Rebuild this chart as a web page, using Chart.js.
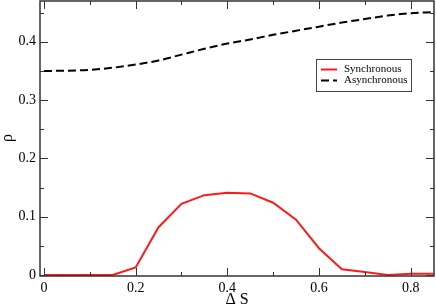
<!DOCTYPE html>
<html>
<head>
<meta charset="utf-8">
<script src="https://cdn.jsdelivr.net/npm/chart.js@4/dist/chart.umd.min.js"></script>
<style>
  html, body { margin: 0; padding: 0; background: #fff; }
  canvas { display: block; }
</style>
</head>
<body>
<canvas id="c" width="436" height="308"></canvas>
<script>
/* data */
const DELTA_S = [0, 0.05, 0.1, 0.15, 0.2, 0.25, 0.3, 0.35, 0.4, 0.45, 0.5, 0.55, 0.6, 0.65, 0.7, 0.75, 0.8, 0.85];
const SYNC    = [0, 0, 0, 0, 0.013, 0.082, 0.122, 0.137, 0.141, 0.140, 0.124, 0.095, 0.046, 0.010, 0.005, 0.000, 0.002, 0.002];
const ASYNC   = [0.350, 0.3505, 0.352, 0.3555, 0.361, 0.368, 0.378, 0.388, 0.397, 0.404, 0.412, 0.419, 0.426, 0.433, 0.439, 0.445, 0.449, 0.451];
const SERIES_NAMES = ['Synchronous', 'Asynchronous'];
const X_MINOR = [0.1, 0.3, 0.5, 0.7];
const Y_MINOR = [0.05, 0.15, 0.25, 0.35, 0.45];

const SERIF = '"Liberation Serif", "DejaVu Serif", serif';

const pts = ys => DELTA_S.map((x, i) => ({ x: x, y: ys[i] }));

/* frame, inward ticks on all four sides, axis titles, boxed legend */
const framePlugin = {
  id: 'frame',
  afterDraw(chart) {
    const ctx = chart.ctx;
    const a = chart.chartArea;
    const xs = chart.scales.x, ys = chart.scales.y;
    ctx.save();
    ctx.strokeStyle = '#333';
    ctx.lineWidth = 1.5;
    ctx.strokeRect(a.left, a.top, a.right - a.left, a.bottom - a.top);

    ctx.lineWidth = 1;
    ctx.beginPath();
    const xt = (v, len) => {
      const p = Math.round(xs.getPixelForValue(v)) + 0.5;
      ctx.moveTo(p, a.bottom); ctx.lineTo(p, a.bottom - len);
      ctx.moveTo(p, a.top);    ctx.lineTo(p, a.top + len);
    };
    const yt = (v, len) => {
      const p = Math.round(ys.getPixelForValue(v)) + 0.5;
      ctx.moveTo(a.left, p);  ctx.lineTo(a.left + len, p);
      ctx.moveTo(a.right, p); ctx.lineTo(a.right - len, p);
    };
    xs.ticks.forEach(t => xt(t.value, 8));
    X_MINOR.forEach(v => xt(v, 4));
    ys.ticks.forEach(t => yt(t.value, 8));
    Y_MINOR.forEach(v => yt(v, 4));
    ctx.stroke();

    // axis titles
    ctx.fillStyle = '#000';
    ctx.font = '16px ' + SERIF;
    ctx.textAlign = 'center';
    ctx.textBaseline = 'middle';
    ctx.fillText('\u0394 S', (a.left + a.right) / 2, 300);
    ctx.save();
    ctx.translate(8, 138);
    ctx.rotate(-Math.PI / 2);
    ctx.fillText('\u03c1', 0, 0);
    ctx.restore();

    // legend
    const lx = 316, ly = 59, lw = 95, lh = 32;
    ctx.fillStyle = '#fff';
    ctx.fillRect(lx, ly, lw, lh);
    ctx.strokeStyle = '#444';
    ctx.lineWidth = 1;
    ctx.strokeRect(lx + 0.5, ly + 0.5, lw, lh);
    ctx.font = '11px ' + SERIF;
    ctx.textAlign = 'left';
    chart.data.datasets.forEach((ds, i) => {
      const y = ly + 10.5 + i * 11;
      ctx.strokeStyle = ds.borderColor;
      ctx.lineWidth = 2;
      ctx.setLineDash(ds.borderDash || []);
      ctx.beginPath();
      ctx.moveTo(lx + 5, y); ctx.lineTo(lx + 21, y);
      ctx.stroke();
      ctx.setLineDash([]);
      ctx.fillStyle = '#000';
      ctx.fillText(ds.label, lx + 28, y);
    });
    ctx.restore();
  }
};

const noPad = s => { s.paddingTop = 0; s.paddingBottom = 0; s.paddingLeft = 0; s.paddingRight = 0; };

new Chart(document.getElementById('c'), {
  type: 'line',
  data: {
    datasets: [
      {
        label: SERIES_NAMES[0],
        data: pts(SYNC),
        borderColor: '#ff1a1a',
        borderWidth: 2,
        pointRadius: 0,
        tension: 0
      },
      {
        label: SERIES_NAMES[1],
        data: pts(ASYNC),
        borderColor: '#000',
        borderWidth: 2,
        borderDash: [8, 4],
        pointRadius: 0,
        cubicInterpolationMode: 'monotone'
      }
    ]
  },
  options: {
    responsive: false,
    devicePixelRatio: 1,
    animation: false,
    layout: { padding: { top: 1, right: 2, left: 0, bottom: 0 } },
    plugins: {
      legend: { display: false },
      tooltip: { enabled: false }
    },
    scales: {
      x: {
        type: 'linear',
        min: -0.0087,
        max: 0.851,
        grid: { display: false, drawTicks: false },
        border: { display: false },
        afterFit(s) { s.height = 32; noPad(s); },
        ticks: {
          stepSize: 0.2,
          includeBounds: false,
          maxRotation: 0,
          padding: 4,
          color: '#000',
          font: { family: SERIF, size: 14 }
        }
      },
      y: {
        min: -0.0017,
        max: 0.47,
        grid: { display: false, drawTicks: false },
        border: { display: false },
        afterFit(s) { s.width = 40; noPad(s); },
        ticks: {
          stepSize: 0.1,
          includeBounds: false,
          padding: 4,
          color: '#000',
          font: { family: SERIF, size: 14 }
        }
      }
    }
  },
  plugins: [framePlugin]
});
</script>
</body>
</html>
